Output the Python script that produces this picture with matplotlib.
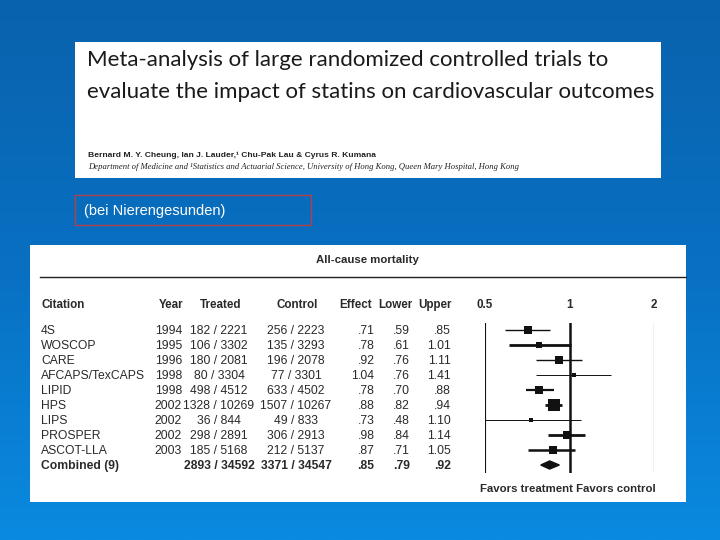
import numpy as np
import matplotlib
matplotlib.use("Agg")
from matplotlib import pyplot as plt
from matplotlib.patches import Rectangle, Polygon

# data
citations = ["4S", "WOSCOP", "CARE", "AFCAPS/TexCAPS", "LIPID", "HPS", "LIPS",
             "PROSPER", "ASCOT-LLA", "Combined (9)"]
years = ["1994", "1995", "1996", "1998", "1998", "2002", "2002", "2002", "2003", ""]
treated = ["182 / 2221", "106 / 3302", "180 / 2081", "80 / 3304", "498 / 4512",
           "1328 / 10269", "36 / 844", "298 / 2891", "185 / 5168", "2893 / 34592"]
control = ["256 / 2223", "135 / 3293", "196 / 2078", "77 / 3301", "633 / 4502",
           "1507 / 10267", "49 / 833", "306 / 2913", "212 / 5137", "3371 / 34547"]
effect = [0.71, 0.78, 0.92, 1.04, 0.78, 0.88, 0.73, 0.98, 0.87, 0.85]
lower = [0.59, 0.61, 0.76, 0.76, 0.70, 0.82, 0.48, 0.84, 0.71, 0.79]
upper = [0.85, 1.01, 1.11, 1.41, 0.88, 0.94, 1.10, 1.14, 1.05, 0.92]
# relative study weight (square size) and CI line weight as drawn
weight = [7, 6, 7, 4, 8, 11, 4, 7, 7]
line_w = [1.0, 2.0, 1.0, 0.7, 1.6, 2.0, 0.7, 2.0, 1.8]
ticks = [0.5, 1, 2]
tick_labels = ["0.5", "1", "2"]


def fmt(v):
    s = "%.2f" % v
    return s[1:] if s.startswith("0") else s


ink = "#2a2a2a"
tbl_font = ["Liberation Sans", "DejaVu Sans"]

fig = plt.figure(figsize=(7.2, 5.4), dpi=100)
ax = fig.add_axes([0, 0, 1, 1])
ax.set_xlim(0, 720)
ax.set_ylim(540, 0)
ax.axis("off")

# background: blue gradient, lighter towards the bottom
grad = np.linspace(0, 1, 200).reshape(-1, 1)
cmap_bg = matplotlib.colors.LinearSegmentedColormap.from_list("bg", ["#0a62ad", "#0870c2", "#0a8ae0"])
ax.imshow(grad, extent=[0, 720, 540, 0], cmap=cmap_bg, aspect="auto", zorder=0)

# title box
ax.add_patch(Rectangle((75, 42), 586, 136, facecolor="white", edgecolor="none", zorder=1))
ttl = dict(fontsize=16, family=["Lato", "DejaVu Sans"], color="#1a1a1a", va="center", zorder=2)
ax.text(87, 60, "Meta-analysis of large randomized controlled trials to", **ttl)
ax.text(87, 92, "evaluate the impact of statins on cardiovascular outcomes", **ttl)
ax.text(88, 155, "Bernard M. Y. Cheung, Ian J. Lauder,\u00b9 Chu-Pak Lau & Cyrus R. Kumana",
        fontsize=6.1, fontweight="bold", family=tbl_font, color="#222222", va="center", zorder=2)
ax.text(88, 167, "Department of Medicine and \u00b9Statistics and Actuarial Science, University of Hong Kong, "
        "Queen Mary Hospital, Hong Kong", fontsize=6.2, style="italic",
        family=["Liberation Serif", "DejaVu Serif"], color="#222222", va="center", zorder=2)

# label box
ax.add_patch(Rectangle((75, 195), 236, 30, facecolor="none", edgecolor="#b0404a", lw=1, zorder=2))
ax.text(84, 211, "(bei Nierengesunden)", fontsize=10.5, family=tbl_font, color="white",
        va="center", zorder=3)

# forest table panel
ax.add_patch(Rectangle((30, 245), 656, 257, facecolor="white", edgecolor="none", zorder=1))
ax.text(367, 260, "All-cause mortality", fontsize=8.2, fontweight="bold", family=tbl_font,
        color=ink, ha="center", va="center", zorder=2)
ax.plot([40, 686], [277, 277], color="#222222", lw=1, zorder=2)

hy = 305
hdr = dict(fontsize=8.4, fontweight="bold", family=tbl_font, color=ink, va="center", zorder=2)
ax.text(41, hy, "Citation", ha="left", **hdr)
ax.text(183, hy, "Year", ha="right", **hdr)
ax.text(221, hy, "Treated", ha="center", **hdr)
ax.text(297, hy, "Control", ha="center", **hdr)
ax.text(356, hy, "Effect", ha="center", **hdr)
ax.text(395, hy, "Lower", ha="center", **hdr)
ax.text(435, hy, "Upper", ha="center", **hdr)

row0, step = 331, 15
for i in range(len(citations)):
    y = row0 + step * i
    last = i == len(citations) - 1
    kw = dict(fontsize=8.7, family=tbl_font, color=ink, va="center", zorder=2,
              fontweight="bold" if last else "normal")
    ax.text(41, y, citations[i], ha="left", **kw)
    ax.text(182, y, years[i], ha="right", **kw)
    ax.text(219, y, treated[i], ha="center", **kw)
    ax.text(296, y, control[i], ha="center", **kw)
    # effect column is decimal-aligned
    e = fmt(effect[i])
    ip, fp = e.split(".")
    if ip:
        ax.text(357.5, y, ip, ha="right", **kw)
    ax.text(357.5, y, "." + fp, ha="left", **kw)
    ax.text(410, y, fmt(lower[i]), ha="right", **kw)
    ax.text(451, y, fmt(upper[i]), ha="right", **kw)

ax.text(568, 489, "Favors treatment Favors control", fontsize=8.2, fontweight="bold",
        family=tbl_font, color=ink, ha="center", va="center", zorder=2)

# forest plot axes (log scale)
x0, x1 = 485, 654
ytop, ybot = row0 - 0.5 * step - 1, row0 + 9.5 * step - 1
fax = fig.add_axes([x0 / 720, 1 - ybot / 540, (x1 - x0) / 720, (ybot - ytop) / 540])
fax.set_xscale("log")
fax.set_xlim(0.5, 2)
fax.set_ylim(len(citations) - 0.5, -0.5)
fax.axis("off")
fax.patch.set_alpha(0)

for t, lab in zip(ticks, tick_labels):
    fax.axvline(t, color="#111111", lw=1.8 if t == 1 else 0.8, zorder=1)
    ax.text(x0 + (x1 - x0) * np.log(t / 0.5) / np.log(4), hy, lab, fontsize=8.4,
            fontweight="bold", family=tbl_font, color=ink, ha="center", va="center", zorder=2)

for i in range(len(citations) - 1):
    fax.plot([lower[i], upper[i]], [i, i], color="#111111", lw=line_w[i],
             solid_capstyle="butt", zorder=2, clip_on=True)
    fax.plot(effect[i], i, marker="s", ms=weight[i] * 0.8, mew=0, color="#111111", zorder=3)

k = len(citations) - 1
fax.add_patch(Polygon([[lower[k], k], [effect[k], k - 0.27], [upper[k], k], [effect[k], k + 0.27]],
                      closed=True, facecolor="#111111", edgecolor="#111111", zorder=3))

fig.savefig("out.png", dpi=100)
